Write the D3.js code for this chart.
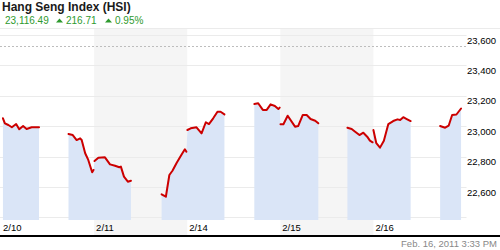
<!DOCTYPE html>
<html><head><meta charset="utf-8">
<script src="https://cdn.jsdelivr.net/npm/d3@7"></script>
<style>html,body{margin:0;padding:0;background:#fff;}svg{display:block;font-family:"Liberation Sans",Arial,sans-serif;}</style>
</head><body>
<svg id="chart" width="500" height="250"></svg>
<script>
// ---- data ----
const title = "Hang Seng Index (HSI)";
const lastValue = "23,116.49";
const changeValue = "216.71";
const changePct = "0.95%";
const timestamp = "Feb. 16, 2011 3:33 PM";
const dayLabels = ["2/10", "2/11", "2/14", "2/15", "2/16"];
const yTickValues = [22600, 22800, 23000, 23200, 23400, 23600];
const gridValues = [22400, 22600, 22800, 23000, 23200, 23400, 23600];
const refLevel = 23530;
// sessions: [hours since start of first day, index value]
const session1 = [[0.5,23052],[1.0,23019],[1.9,23008],[2.8,22993],[3.9,23014],[4.7,22980],[5.7,23001],[6.6,22982],[7.9,22993],[8.8,22993],[9.8,22993]];
const session2 = [[17.4,22949],[18.5,22942],[19.5,22909],[20.4,22920],[20.8,22909],[21.7,22822],[22.5,22778],[23.5,22697],[23.85,22712]];
const session3 = [[24.1,22771],[25.1,22793],[26.8,22795],[28.1,22749],[29.4,22740],[30.5,22730],[30.9,22734],[31.7,22668],[32.7,22635],[33.5,22641]];
const session4 = [[41.4,22552],[42.5,22536],[43.4,22679],[44.2,22707],[45.3,22760],[46.6,22815],[47.4,22848],[47.8,22832]];
const session5 = [[48.05,22975],[48.9,22986],[50.4,22993],[51.7,22953],[52.8,23026],[53.6,23014],[54.7,23052],[55.8,23095],[56.6,23095],[57.6,23078]];
const session6 = [[65.3,23146],[66.3,23151],[67.5,23107],[68.5,23107],[69.5,23144],[70.6,23133],[71.5,23113],[71.85,23122]];
const session7 = [[72.05,23013],[72.8,23013],[73.9,23069],[75.8,22997],[76.6,23001],[77.8,23074],[78.8,23074],[79.8,23047],[81.0,23036],[81.8,23019]];
const session8 = [[89.3,22990],[90.4,22982],[91.3,22964],[92.4,22942],[93.4,22957],[94.4,22931],[95.1,22905],[95.8,22894]];
const session9 = [[96.0,22975],[96.75,22888],[97.7,22859],[98.7,22905],[99.85,23014],[101.1,23034],[102.2,23045],[102.9,23041],[103.7,23059],[104.6,23047],[105.6,23034]];
const session10 = [[113.2,23001],[114.5,22990],[115.4,23003],[116.3,23074],[117.4,23077],[118.6,23116.49]];

const sessions = [session1, session2, session3, session4, session5, session6, session7, session8, session9, session10];
const blocks = [[session1], [session2, session3], [session4, session5], [session6, session7], [session8, session9], [session10]];

// ---- layout ----
const svg = d3.select("#chart");
const W = 500, H = 250;
const plotLeft = 1, plotRight = 466.5, plotTop = 28, plotBottom = 220, axisY = 236;
const x = d3.scaleLinear().domain([0, 120]).range([plotLeft, plotRight]);
const y = d3.scaleLinear().domain([22400, 23600]).range([217.4, 35]);

// header
svg.append("text").attr("x", 2).attr("y", 11)
  .attr("font-size", 12).attr("font-weight", "bold").attr("fill", "#1a1a1a").text(title);
const green = "#2e9a2e";
const hdr = svg.append("g").attr("fill", green).attr("font-size", 10);
hdr.append("text").attr("x", 5).attr("y", 24).text(lastValue);
const tri = (cx) => `M${cx-3.5},22.5 L${cx+3.5},22.5 L${cx},18.5 Z`;
hdr.append("path").attr("d", tri(59.5));
hdr.append("text").attr("x", 66).attr("y", 24).text(changeValue);
hdr.append("path").attr("d", tri(108.5));
hdr.append("text").attr("x", 115).attr("y", 24).text(changePct);

// top border
svg.append("line").attr("x1", 0).attr("x2", W).attr("y1", plotTop + 0.5).attr("y2", plotTop + 0.5)
  .attr("stroke", "#ebebeb");

// alternating day bands
dayLabels.forEach((d, i) => {
  if (i % 2 === 1) {
    svg.append("rect").attr("x", x(i * 24)).attr("y", plotTop + 1)
      .attr("width", x((i + 1) * 24) - x(i * 24)).attr("height", axisY - plotTop - 2)
      .attr("fill", "#f5f5f5");
  }
});

// gridlines
svg.append("g").selectAll("line").data(gridValues).join("line")
  .attr("x1", 0).attr("x2", plotRight)
  .attr("y1", d => Math.round(y(d)) + 0.5).attr("y2", d => Math.round(y(d)) + 0.5)
  .attr("stroke", "#ebebeb");

// reference dashed line
svg.append("line").attr("x1", 0).attr("x2", plotRight)
  .attr("y1", Math.round(y(refLevel)) + 0.5).attr("y2", Math.round(y(refLevel)) + 0.5)
  .attr("stroke", "#bdbdbd").attr("stroke-dasharray", "2,2");

// fills
const area = d3.area().x(d => x(d[0])).y0(plotBottom).y1(d => y(d[1]));
svg.append("g").selectAll("path").data(blocks.map(b => b.flat())).join("path")
  .attr("d", area).attr("fill", "#dae5f7");

// lines
const line = d3.line().x(d => x(d[0])).y(d => y(d[1]));
svg.append("g").selectAll("path").data(sessions).join("path")
  .attr("d", line).attr("fill", "none").attr("stroke", "#cc0000")
  .attr("stroke-width", 2).attr("stroke-linejoin", "round").attr("stroke-linecap", "round");

// y labels
svg.append("g").selectAll("text").data(yTickValues).join("text")
  .attr("x", 467).attr("y", d => y(d) + 8.5)
  .attr("font-size", 9.5).attr("fill", "#000")
  .text(d => d3.format(",")(d));

// x labels
svg.append("g").selectAll("text").data(dayLabels).join("text")
  .attr("x", (d, i) => x(i * 24) + 2).attr("y", 231)
  .attr("font-size", 9.5).attr("fill", "#000").text(d => d);

// axis line
svg.append("rect").attr("x", 0).attr("y", axisY - 1).attr("width", W).attr("height", 2).attr("fill", "#000");

// timestamp
svg.append("text").attr("x", 497).attr("y", 247).attr("text-anchor", "end")
  .attr("font-size", 9.5).attr("fill", "#888").text(timestamp);
</script>
</body></html>
